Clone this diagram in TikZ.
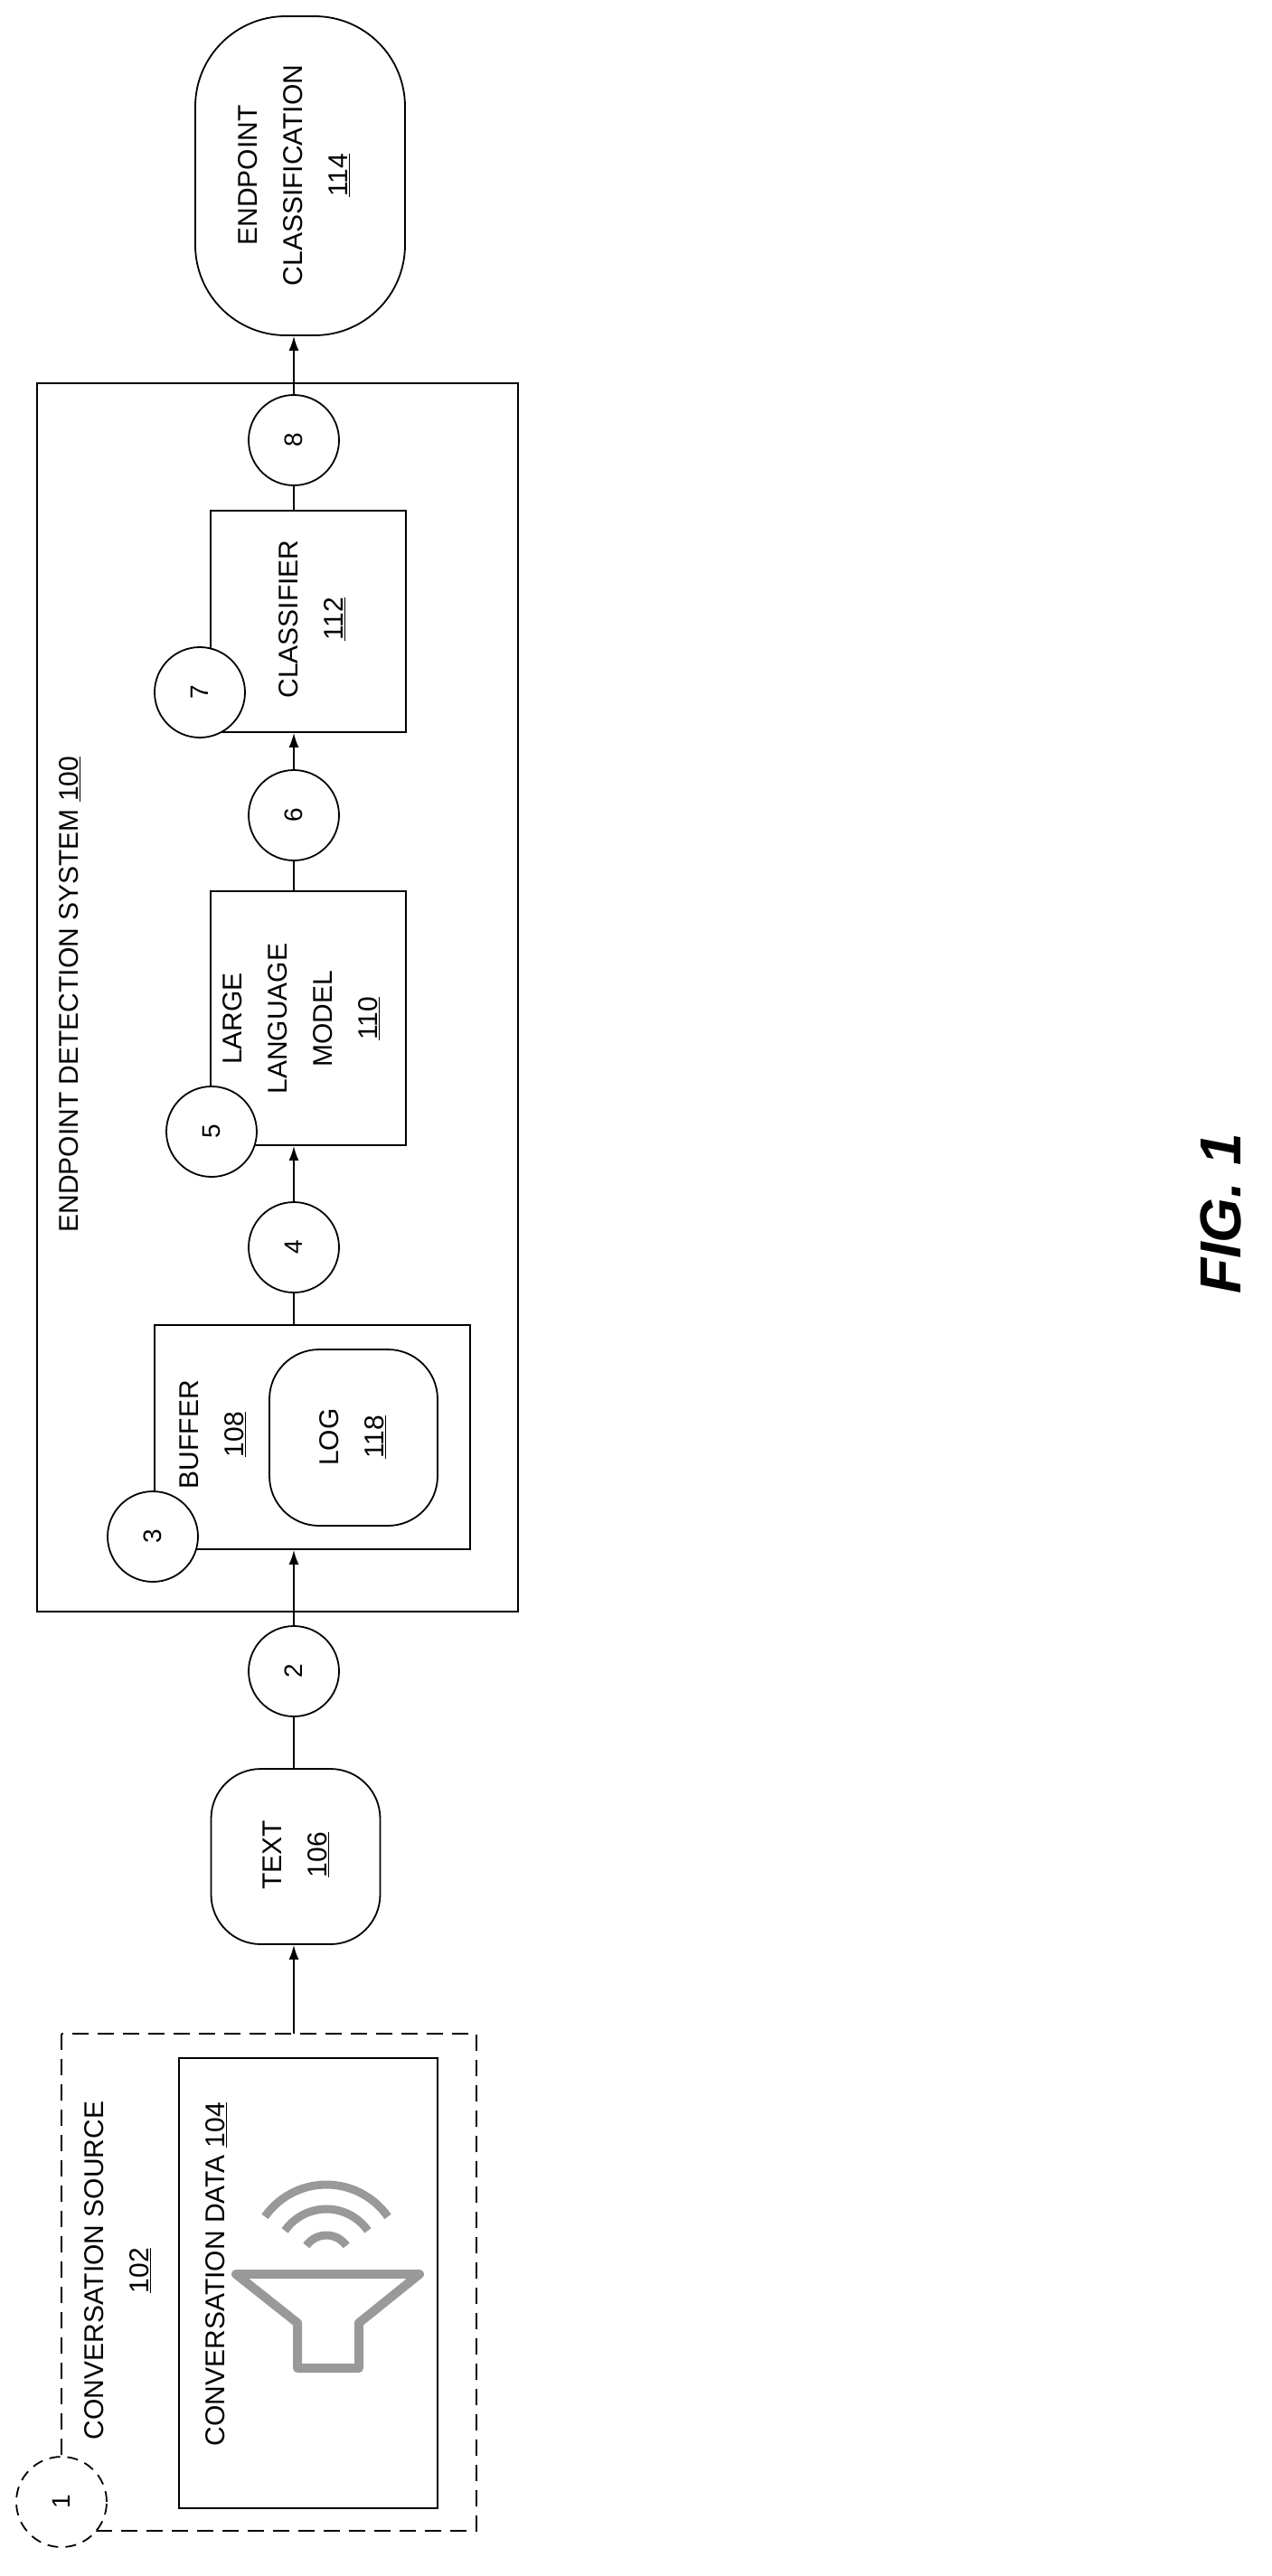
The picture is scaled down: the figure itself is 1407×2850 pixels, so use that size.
\documentclass[tikz,border=0pt]{standalone}
\usepackage{fontspec}
\setmainfont{Liberation Sans}
\usetikzlibrary{arrows.meta, positioning}

\begin{document}
\begin{tikzpicture}[x=1pt,y=-1pt,
    every node/.style={inner sep=0pt},
    box/.style={draw, line width=1.8pt, fill=none},
    rbox/.style={box, rounded corners=55pt},
    lbl/.style={rotate=90, align=center, font=\fontsize{30}{50}\selectfont},
    stage/.style={circle, draw, line width=1.8pt, fill=white, minimum size=100pt,
        font=\fontsize{28}{30}\selectfont},
    flow/.style={line width=1.8pt},
    arr/.style={flow, -{Latex[length=16pt,width=11pt]}}]
    \useasboundingbox (0,0) rectangle (1407,2850);

    % source side
    \draw[box, dashed, dash pattern=on 18pt off 10pt] (68,2250) rectangle (527,2800);
    \node[box, minimum width=286pt, minimum height=498pt] (data) at (341,2526) {};
    \coordinate (src) at (325,2250);
    \node[stage, dashed, dash pattern=on 12pt off 8pt] (c1) at (68,2768) {\rotatebox{90}{1}};
    \node[lbl] (tsrc) at (130,2512) {CONVERSATION SOURCE\\\underline{102}};
    \node[lbl] (tdata) at (239,2516) {CONVERSATION DATA \underline{104}};

    % speaker
    \draw[draw=gray!80, line width=10pt, line join=round]
        (261,2516) -- (464,2516) -- (397,2570) -- (397,2620) -- (329,2620) -- (329,2570) -- cycle;
    \foreach \r in {27,56,83}
        \draw[draw=gray!80, line width=9pt] (361,2500) ++(-145:\r) arc[start angle=-145, end angle=-35, radius=\r];

    \node[rbox, minimum width=187pt, minimum height=194pt] (text) at (327,2054) {};
    \node[lbl] (ttext) at (327,2052) {TEXT\\\underline{106}};

    % endpoint detection system
    \draw[box] (41,424) rectangle (573,1783);
    \node[lbl] (teds) at (77,1100) {ENDPOINT DETECTION SYSTEM \underline{100}};

    \node[box, minimum width=349pt, minimum height=248pt] (buffer) at (345.5,1590) {};
    \node[rbox, minimum width=186pt, minimum height=195pt] (log) at (391,1590.5) {};
    \node[lbl] (tbuffer) at (235,1587) {BUFFER\\\underline{108}};
    \node[lbl] (tlog) at (390,1590) {LOG\\\underline{118}};

    \node[box, minimum width=216pt, minimum height=281pt] (llm) at (341,1126.5) {};
    \node[lbl] (tllm) at (333,1127) {LARGE\\LANGUAGE\\MODEL\\\underline{110}};

    \node[box, minimum width=216pt, minimum height=245pt] (cls) at (341,687.5) {};
    \node[lbl] (tcls) at (345,685) {CLASSIFIER\\\underline{112}};

    \node[rbox, rounded corners=100pt, minimum width=232pt, minimum height=353pt] (endc) at (332,194.5) {};
    \node[lbl] (tendc) at (325,194) {ENDPOINT\\CLASSIFICATION\\\underline{114}};

    % numbered steps
    \node[stage] (c2) at (325,1849) {\rotatebox{90}{2}};
    \node[stage] (c3) at (169,1700) {\rotatebox{90}{3}};
    \node[stage] (c4) at (325,1380) {\rotatebox{90}{4}};
    \node[stage] (c5) at (234,1252) {\rotatebox{90}{5}};
    \node[stage] (c6) at (325,902) {\rotatebox{90}{6}};
    \node[stage] (c7) at (221,766) {\rotatebox{90}{7}};
    \node[stage] (c8) at (325,487) {\rotatebox{90}{8}};

    % connectors
    \draw[arr] (src) -- (text.south -| src);
    \draw[flow] (text.north -| src) -- (c2);
    \draw[arr] (c2) -- (buffer.south -| c2);
    \draw[flow] (buffer.north -| c4) -- (c4);
    \draw[arr] (c4) -- (llm.south -| c4);
    \draw[flow] (llm.north -| c6) -- (c6);
    \draw[arr] (c6) -- (cls.south -| c6);
    \draw[flow] (cls.north -| c8) -- (c8);
    \draw[arr] (c8) -- (endc.south -| c8);

    \node[rotate=90, font=\fontsize{64}{70}\selectfont\bfseries\itshape] (fig) at (1350,1343) {FIG. 1};
\end{tikzpicture}
\end{document}
